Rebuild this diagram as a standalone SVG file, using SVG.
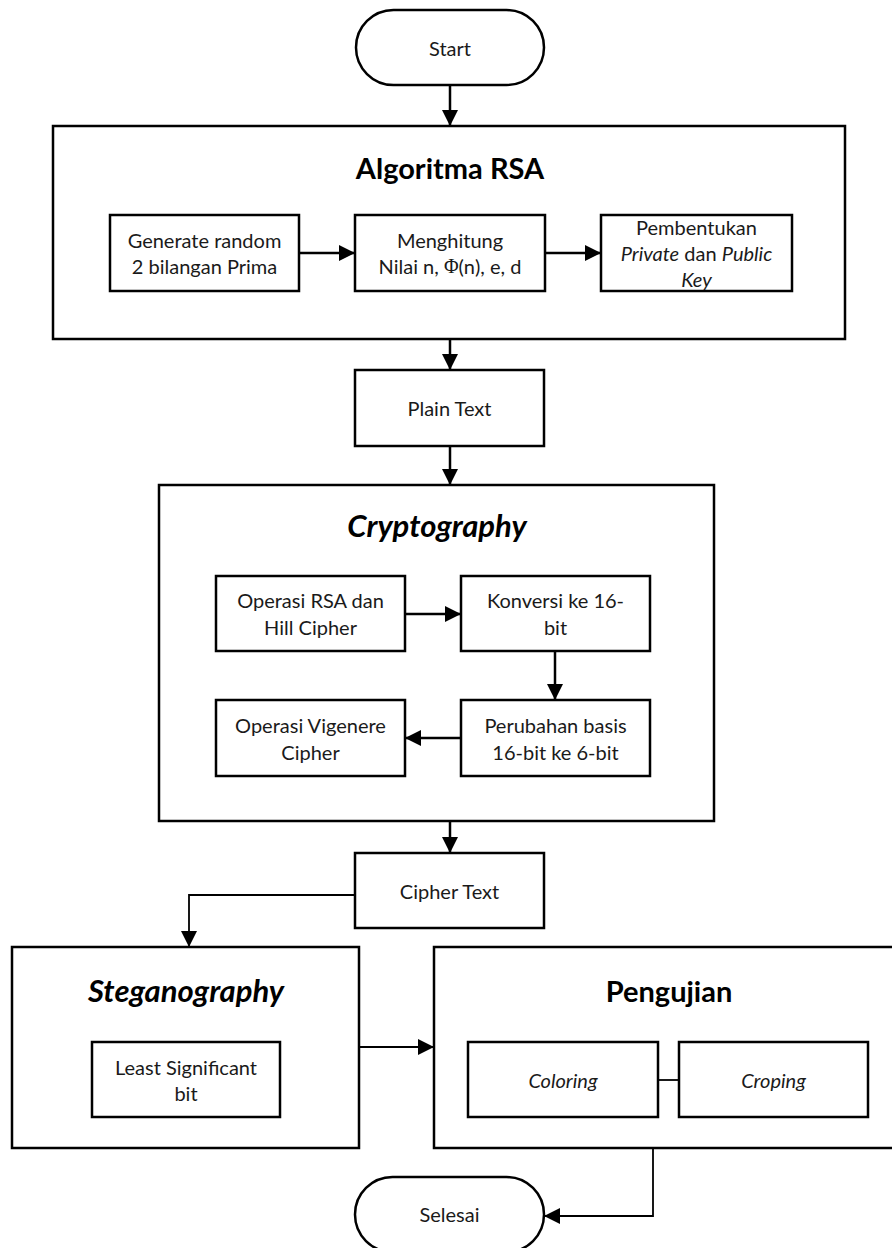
<svg xmlns="http://www.w3.org/2000/svg" width="892" height="1248" viewBox="0 0 892 1248">
  <style>
    .box { fill: #ffffff; stroke: #000000; stroke-width: 2.5; }
    .t { font-family: Lato, "Liberation Sans", sans-serif; font-size: 20px; fill: #1a1a1a; text-anchor: middle; dominant-baseline: central; }
    .h { font-family: Lato, "Liberation Sans", sans-serif; font-size: 29px; font-weight: bold; fill: #000000; text-anchor: middle; dominant-baseline: central; }
    .hi { font-size: 31px; font-style: italic; }
    .it { font-style: italic; }
    .c { fill: none; stroke: #000000; stroke-width: 2.5; }
    .c2 { fill: none; stroke: #000000; stroke-width: 1.8; }
  </style>
  <defs>
    <marker id="ah" viewBox="0 0 16 16" refX="16" refY="8" markerWidth="16" markerHeight="16" markerUnits="userSpaceOnUse" orient="auto">
      <path d="M0,0 L16,8 L0,16 z" fill="#000000"/>
    </marker>
  </defs>
  <rect width="892" height="1248" fill="#ffffff"/>

  <g id="start">
    <rect class="box" x="356" y="10" width="188" height="75" rx="37.5" ry="37.5"/>
    <text class="t" x="450" y="47.5">Start</text>
  </g>

  <g id="algoritma-rsa">
    <rect class="box" x="53" y="126" width="792" height="213"/>
    <text class="h" x="450" y="167">Algoritma RSA</text>
  </g>
  <g id="generate">
    <rect class="box" x="110" y="215" width="189" height="76"/>
    <text class="t" x="204.5" y="240">Generate random</text>
    <text class="t" x="204.5" y="266">2 bilangan Prima</text>
  </g>
  <g id="menghitung">
    <rect class="box" x="355" y="215" width="190" height="76"/>
    <text class="t" x="450" y="240">Menghitung</text>
    <text class="t" x="450" y="266">Nilai n, <tspan font-family="'Liberation Serif', serif">Φ</tspan>(n), e, d</text>
  </g>
  <g id="pembentukan">
    <rect class="box" x="601" y="215" width="191" height="76"/>
    <text class="t" x="696.5" y="227">Pembentukan</text>
    <text class="t" x="696.5" y="253"><tspan class="it">Private</tspan> dan <tspan class="it">Public</tspan></text>
    <text class="t it" x="696.5" y="279">Key</text>
  </g>

  <g id="plain-text">
    <rect class="box" x="355" y="370" width="189" height="76"/>
    <text class="t" x="449.5" y="408">Plain Text</text>
  </g>

  <g id="cryptography">
    <rect class="box" x="159" y="485" width="555" height="336"/>
    <text class="h hi" x="437" y="525">Cryptography</text>
  </g>
  <g id="operasi-rsa">
    <rect class="box" x="216" y="576" width="189" height="75"/>
    <text class="t" x="310.5" y="600">Operasi RSA dan</text>
    <text class="t" x="310.5" y="627">Hill Cipher</text>
  </g>
  <g id="konversi">
    <rect class="box" x="461" y="576" width="189" height="75"/>
    <text class="t" x="555.5" y="600">Konversi ke 16-</text>
    <text class="t" x="555.5" y="627">bit</text>
  </g>
  <g id="perubahan">
    <rect class="box" x="461" y="700" width="189" height="76"/>
    <text class="t" x="555.5" y="725">Perubahan basis</text>
    <text class="t" x="555.5" y="752">16-bit ke 6-bit</text>
  </g>
  <g id="vigenere">
    <rect class="box" x="216" y="700" width="189" height="76"/>
    <text class="t" x="310.5" y="725">Operasi Vigenere</text>
    <text class="t" x="310.5" y="752">Cipher</text>
  </g>

  <g id="cipher-text">
    <rect class="box" x="355" y="853" width="189" height="75"/>
    <text class="t" x="449.5" y="891">Cipher Text</text>
  </g>

  <g id="steganography">
    <rect class="box" x="12" y="947" width="347" height="201"/>
    <text class="h hi" x="186" y="990">Steganography</text>
  </g>
  <g id="lsb">
    <rect class="box" x="92" y="1042" width="188" height="75"/>
    <text class="t" x="186" y="1067">Least Significant</text>
    <text class="t" x="186" y="1093">bit</text>
  </g>

  <g id="pengujian">
    <rect class="box" x="434" y="947" width="470" height="201"/>
    <text class="h" x="669" y="990">Pengujian</text>
  </g>
  <g id="coloring">
    <rect class="box" x="468" y="1042" width="190" height="75"/>
    <text class="t it" x="563" y="1080">Coloring</text>
  </g>
  <g id="croping">
    <rect class="box" x="679" y="1042" width="189" height="75"/>
    <text class="t it" x="773.5" y="1080">Croping</text>
  </g>

  <g id="selesai">
    <rect class="box" x="355" y="1177" width="189" height="75" rx="37.5" ry="37.5"/>
    <text class="t" x="449.5" y="1214">Selesai</text>
  </g>

  <g id="connectors">
    <line class="c" x1="450" y1="85" x2="450" y2="126" marker-end="url(#ah)"/>
    <line class="c" x1="299" y1="253" x2="355" y2="253" marker-end="url(#ah)"/>
    <line class="c" x1="545" y1="253" x2="601" y2="253" marker-end="url(#ah)"/>
    <line class="c" x1="450" y1="339" x2="450" y2="370" marker-end="url(#ah)"/>
    <line class="c" x1="450" y1="446" x2="450" y2="485" marker-end="url(#ah)"/>
    <line class="c" x1="405" y1="614" x2="461" y2="614" marker-end="url(#ah)"/>
    <line class="c" x1="555" y1="651" x2="555" y2="700" marker-end="url(#ah)"/>
    <line class="c" x1="461" y1="738" x2="405" y2="738" marker-end="url(#ah)"/>
    <line class="c" x1="450" y1="821" x2="450" y2="853" marker-end="url(#ah)"/>
    <polyline class="c2" points="355,895 189,895 189,947" marker-end="url(#ah)"/>
    <line class="c2" x1="359" y1="1047" x2="434" y2="1047" marker-end="url(#ah)"/>
    <line class="c2" x1="658" y1="1080" x2="679" y2="1080"/>
    <polyline class="c2" points="653,1148 653,1216 544,1216" marker-end="url(#ah)"/>
  </g>
</svg>
